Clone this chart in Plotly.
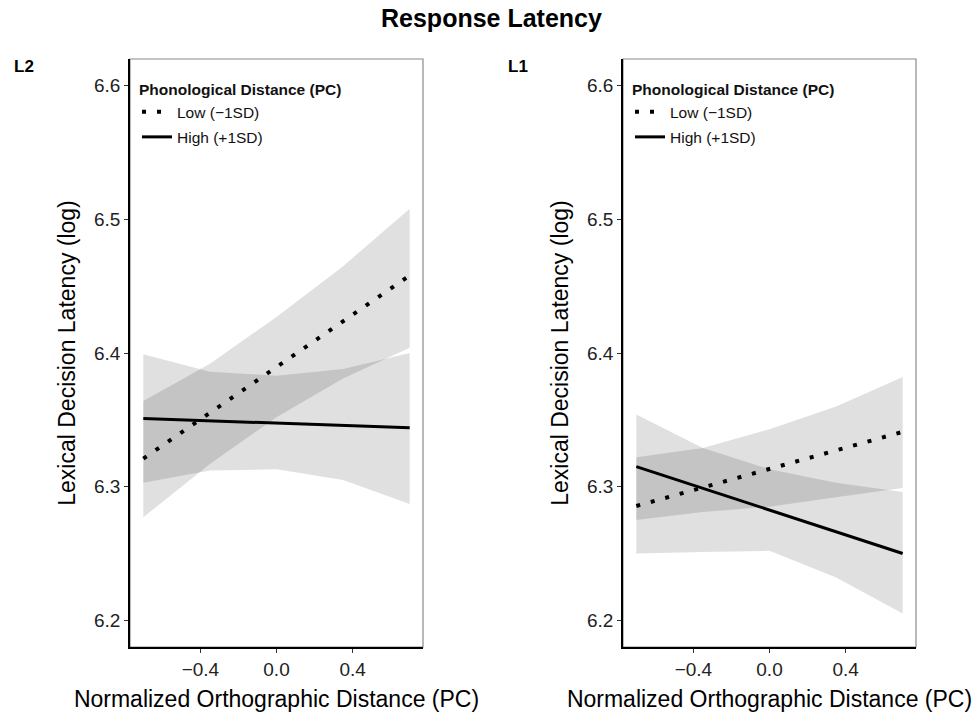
import plotly.graph_objects as go

# ---- data ----
x_band = [-0.7, -0.35, 0.0, 0.35, 0.7]
x_line = [-0.7, 0.7]

# L2 panel
l2_low_line = [6.321, 6.458]
l2_high_line = [6.351, 6.344]
l2_low_upper = [6.364, 6.392, 6.427, 6.465, 6.508]
l2_low_lower = [6.277, 6.317, 6.352, 6.381, 6.404]
l2_high_upper = [6.399, 6.386, 6.383, 6.388, 6.400]
l2_high_lower = [6.303, 6.312, 6.313, 6.305, 6.287]

# L1 panel
l1_low_line = [6.2855, 6.341]
l1_high_line = [6.315, 6.250]
l1_low_upper = [6.322, 6.329, 6.343, 6.360, 6.382]
l1_low_lower = [6.275, 6.281, 6.285, 6.292, 6.299]
l1_high_upper = [6.354, 6.329, 6.313, 6.303, 6.296]
l1_high_lower = [6.250, 6.251, 6.252, 6.232, 6.205]

x_tickvals = [-0.4, 0.0, 0.4]
x_ticktext = ["\u22120.4", "0.0", "0.4"]
y_tickvals = [6.2, 6.3, 6.4, 6.5, 6.6]
y_ticktext = ["6.2", "6.3", "6.4", "6.5", "6.6"]

series_names = ["Low (\u22121SD)", "High (+1SD)"]
legend_title = "Phonological Distance (PC)"
panel_labels = ["L2", "L1"]
x_title = "Normalized Orthographic Distance (PC)"
y_title = "Lexical Decision Latency (log)"
main_title = "Response Latency"

FONT = "Liberation Sans, Arial, sans-serif"
BAND = "rgba(0,0,0,0.12)"

fig = go.Figure()

panels = [
    ("x", "y", "legend", l2_low_line, l2_high_line, l2_low_upper, l2_low_lower, l2_high_upper, l2_high_lower),
    ("x2", "y2", "legend2", l1_low_line, l1_high_line, l1_low_upper, l1_low_lower, l1_high_upper, l1_high_lower),
]

for i, (xa, ya, lg, low_line, high_line, lo_u, lo_l, hi_u, hi_l) in enumerate(panels):
    for up, lw in [(lo_u, lo_l), (hi_u, hi_l)]:
        fig.add_trace(go.Scatter(
            x=x_band + x_band[::-1], y=up + lw[::-1],
            fill="toself", fillcolor=BAND, line=dict(width=0),
            mode="lines", showlegend=False, hoverinfo="skip",
            xaxis=xa, yaxis=ya))
    fig.add_trace(go.Scatter(
        x=x_line, y=low_line, mode="lines", name=series_names[0],
        line=dict(color="black", width=4, dash="4px,11px"),
        legendgroup=f"low{i}",
        xaxis=xa, yaxis=ya, legend=lg))
    fig.add_trace(go.Scatter(
        x=x_line, y=high_line, mode="lines", name=series_names[1],
        line=dict(color="black", width=3),
        legendgroup=f"high{i}",
        xaxis=xa, yaxis=ya, legend=lg))

xdom = [[130 / 975, 423 / 975], [623 / 975, 916 / 975]]
ydom = [1 - 647 / 712, 1 - 59 / 712]

def xaxis_cfg(dom, anchor):
    return dict(domain=dom, anchor=anchor, range=[-0.77, 0.77],
                tickvals=x_tickvals, ticktext=x_ticktext,
                ticks="outside", ticklen=4, tickwidth=1, tickcolor="#333",
                showline=True, linecolor="black", linewidth=1.5,
                showgrid=False, zeroline=False,
                tickfont=dict(size=19, color="#222", family=FONT),
                title=dict(text=x_title, font=dict(size=23, color="black", family=FONT), standoff=14),
                automargin=False)

def yaxis_cfg(anchor):
    return dict(domain=ydom, anchor=anchor, range=[6.18, 6.62],
                tickvals=y_tickvals, ticktext=y_ticktext,
                ticks="outside", ticklen=4, tickwidth=1, tickcolor="#333",
                showline=True, linecolor="black", linewidth=1.5,
                showgrid=False, zeroline=False,
                tickfont=dict(size=19, color="#222", family=FONT),
                title=dict(text=y_title, font=dict(size=23, color="black", family=FONT), standoff=12),
                automargin=False)

legend_cfg = dict(xanchor="left", yanchor="top", bgcolor="rgba(0,0,0,0)",
                  font=dict(size=15.5, color="#111", family=FONT),
                  title=dict(text="<b>" + legend_title + "</b>", font=dict(size=15.5, color="#111", family=FONT)),
                  itemwidth=30, tracegroupgap=2)

fig.update_layout(
    width=975, height=712,
    margin=dict(l=0, r=0, t=0, b=0),
    paper_bgcolor="white", plot_bgcolor="white",
    font=dict(family=FONT, color="black"),
    xaxis=xaxis_cfg(xdom[0], "y"),
    yaxis=yaxis_cfg("x"),
    xaxis2=xaxis_cfg(xdom[1], "y2"),
    yaxis2=yaxis_cfg("x2"),
    legend=dict(x=137 / 975, y=1 - 75 / 712, **legend_cfg),
    legend2=dict(x=630 / 975, y=1 - 75 / 712, **legend_cfg),
    showlegend=True,
)

for xr, yr in [("x domain", "y domain"), ("x2 domain", "y2 domain")]:
    fig.add_shape(type="rect", xref=xr, yref=yr, x0=0, x1=1, y0=0, y1=1,
                  line=dict(color="#8a8a8a", width=1.2), layer="below")

fig.add_annotation(text="<b>" + main_title + "</b>", x=491 / 975, y=1 - 18 / 712,
                   xref="paper", yref="paper", showarrow=False,
                   font=dict(size=25, family=FONT, color="black"),
                   xanchor="center", yanchor="middle")
for lab, xp in zip(panel_labels, [12, 506]):
    fig.add_annotation(text="<b>" + lab + "</b>", x=xp / 975, y=1 - 67 / 712,
                       xref="paper", yref="paper", showarrow=False,
                       font=dict(size=17, family=FONT, color="black"),
                       xanchor="left", yanchor="middle")

fig.write_html("out.html", config={"displayModeBar": False},
               post_script="document.body.style.margin='0px';")
